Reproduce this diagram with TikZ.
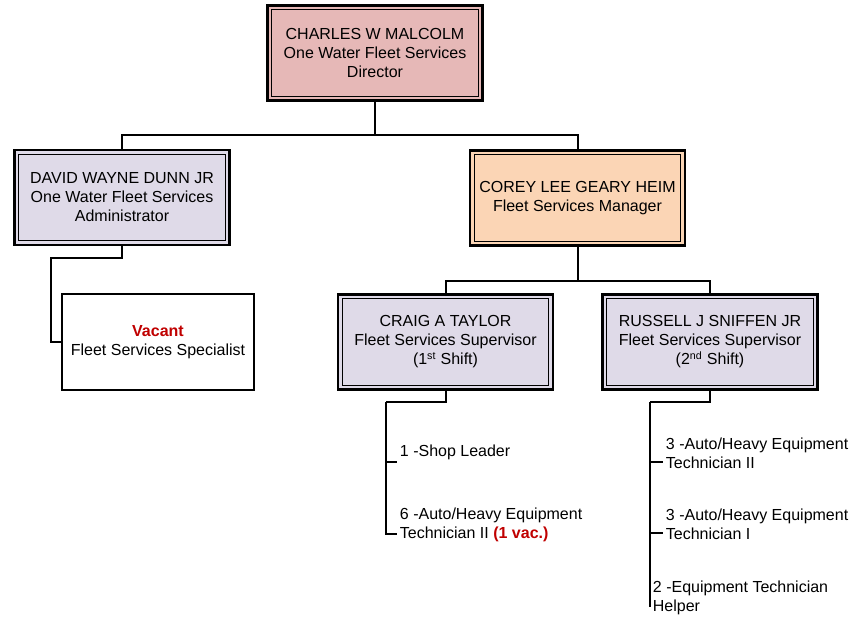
\documentclass[tikz,border=0pt]{standalone}
\usepackage{fontspec}
\setmainfont{Liberation Sans}
\usepackage{xcolor}
\usepackage{tikz}
\definecolor{rosa}{RGB}{230,184,183}
\definecolor{lila}{RGB}{223,218,232}
\definecolor{durazno}{RGB}{251,213,181}
\definecolor{rojovac}{RGB}{192,0,0}
\tikzset{
  caja/.style={draw=black,line width=1.7pt,minimum width=161.25pt,minimum height=71.25pt,
    align=center,inner sep=2pt,
    path picture={\draw[line width=0.8pt]
      ([shift={(3.2pt,3.2pt)}]path picture bounding box.south west) rectangle
      ([shift={(-3.2pt,-3.2pt)}]path picture bounding box.north east);}},
  vacante/.style={draw=black,line width=1.3pt,fill=white,minimum width=144pt,minimum height=72pt,align=center},
  lista/.style={anchor=west,align=left,inner xsep=2pt,inner ysep=0pt},
  enlace/.style={draw=black,line width=1.5pt}
}

\begin{document}
\begin{tikzpicture}[x=0.75pt,y=-0.75pt,font=\fontsize{12pt}{14.25pt}\selectfont]
\fill[white] (0,0) rectangle (851,619);
\useasboundingbox (0,0) rectangle (851,619);
% cajas
\node[caja,fill=rosa] (malcolm) at (375,53) {CHARLES W MALCOLM\\One Water Fleet Services\\Director};
\node[caja,fill=lila] (dunn) at (122,197.5) {DAVID WAYNE DUNN JR\\One Water Fleet Services\\Administrator};
\node[caja,fill=durazno] (heim) at (577.5,198) {COREY LEE GEARY HEIM\\Fleet Services Manager};
\node[caja,fill=lila] (taylor) at (445.5,342) {CRAIG A TAYLOR\\Fleet Services Supervisor\\(1\textsuperscript{st} Shift)};
\node[caja,fill=lila] (sniffen) at (710,342) {RUSSELL J SNIFFEN JR\\Fleet Services Supervisor\\(2\textsuperscript{nd} Shift)};
\node[vacante] (vacante) at (158,342) {\textcolor{rojovac}{\bfseries Vacant}\\Fleet Services Specialist};
% listas
\node[lista] (lider) at (397,452.7) {1 -Shop Leader};
\node[lista] (tecseis) at (397,525) {6 -Auto/Heavy Equipment\\Technician II \textcolor{rojovac}{\bfseries (1 vac.)}};
\node[lista] (tecdos) at (663,453) {3 -Auto/Heavy Equipment\\Technician II};
\node[lista] (tecuno) at (663,524) {3 -Auto/Heavy Equipment\\Technician I};
\node[lista] (ayudante) at (650,597.5) {2 -Equipment Technician\\Helper};
% lineas
\coordinate (m1) at (375,135);
\coordinate (d1) at (50.5,258);
\coordinate (h1) at (577.5,281);
\coordinate (t1) at (386,401.5);
\coordinate (s1) at (650,401.5);
\draw[enlace] (malcolm.south) -- (m1) -| (dunn.north);
\draw[enlace] (m1) -| (heim.north);
\draw[enlace] (dunn.south) |- (d1) |- (vacante.west);
\draw[enlace] (heim.south) -- (h1) -| (taylor.north);
\draw[enlace] (h1) -| (sniffen.north);
\draw[enlace] (taylor.south) |- (t1);
\draw[enlace] (sniffen.south) |- (s1);
\foreach \n in {lider,tecseis}{
  \draw[enlace] (t1) |- ([yshift=-6.75pt]\n.west);}
\foreach \n in {tecdos,tecuno,ayudante}{
  \draw[enlace] (s1) |- ([yshift=-6.75pt]\n.west);}
\end{tikzpicture}
\end{document}
